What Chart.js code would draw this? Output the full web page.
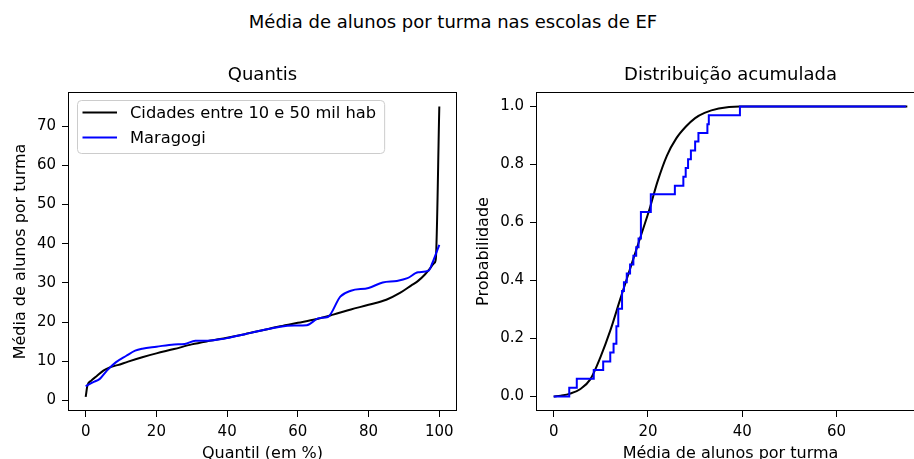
<!DOCTYPE html>
<html>
<head>
<meta charset="utf-8">
<script src="https://cdn.jsdelivr.net/npm/chart.js@4.4.1/dist/chart.umd.min.js"></script>
<style>
  html, body { margin: 0; padding: 0; background: #fff; }
  #page { position: relative; width: 914px; height: 459px; overflow: hidden; }
  #suptitle {
    position: absolute; left: 0; top: 13px; width: 906px;
    text-align: center; font: 18px "DejaVu Sans", sans-serif; line-height: 18px; color: #000;
  }
  canvas { position: absolute; top: 0; }
  #quantis { left: 0; }
  #acumulada { left: 470px; }
</style>
</head>
<body>
<div id="page">
  <div id="suptitle">Média de alunos por turma nas escolas de EF</div>
  <canvas id="quantis" width="470" height="459"></canvas>
  <canvas id="acumulada" width="470" height="459"></canvas>
</div>
<script>
// Quantis: média de alunos por turma em cada quantil (%)
const quantilCidades = [0, 0.5, 1.5, 3, 5, 7, 9, 12, 16, 20, 25, 30, 35, 40, 45, 50, 55, 60, 65, 70,
  75, 80, 85, 89, 92, 94, 96, 97.5, 98.5, 99, 100];
const mediaCidades = [0.9, 3.8, 5.0, 6.1, 7.6, 8.5, 9.0, 9.9, 11.0, 12.0, 13.1, 14.3, 15.2, 16.0, 16.9, 17.9, 18.9, 19.8, 20.7, 21.9,
  23.2, 24.4, 25.7, 27.5, 29.3, 30.5, 32.2, 33.8, 35.0, 36.0, 75];
const quantilMaragogi = [0, 2, 4, 6, 8.5, 11.5, 14, 16, 20, 25, 28, 31, 34, 38, 40, 45, 50, 55, 59, 62.5,
  66, 68.5, 72, 75, 80, 84, 88, 91, 94, 97, 98, 100];
const mediaMaragogi = [3.6, 4.6, 5.5, 7.6, 9.7, 11.4, 12.7, 13.2, 13.7, 14.3, 14.4, 15.2, 15.2, 15.6, 15.9, 16.9, 17.9, 18.8, 19.1, 19.2,
  21.0, 21.3, 26.5, 28.0, 28.7, 30.1, 30.5, 31.2, 32.7, 33.1, 35.0, 39.7];

// Distribuição acumulada
const alunosCidades = [0, 1.5, 3.5, 5.6, 7.8, 9.9, 12.0, 14.1, 16.2, 18.3, 20.4, 22.0, 24.0, 26.0, 28.0, 30.0, 32.0, 35.0, 39.5, 50, 75];
const probCidades = [0, 0.003, 0.01, 0.025, 0.06, 0.135, 0.227, 0.335, 0.44, 0.545, 0.65, 0.74, 0.83, 0.89, 0.93, 0.96, 0.978, 0.993, 1.0, 1.0, 1.0];
const alunosMaragogi = [0, 3.3, 4.9, 8.5, 10.5, 12.0, 12.7, 13.3, 13.7, 14.5, 14.9, 15.5, 16.2, 16.9, 17.5, 18.0, 18.5, 20.6,
  25.7, 27.5, 28.0, 28.5, 29.1, 30.0, 30.7, 32.6, 32.9, 39.5, 74.7];
const probMaragogi = [0, 0.03, 0.061, 0.091, 0.121, 0.152, 0.182, 0.242, 0.303, 0.364, 0.394, 0.424, 0.455, 0.485, 0.515, 0.545, 0.636, 0.697,
  0.727, 0.758, 0.788, 0.818, 0.848, 0.879, 0.909, 0.939, 0.970, 1.0, 1.0];

const xTicksQuantis = [0, 20, 40, 60, 80, 100];
const yTicksQuantis = [0, 10, 20, 30, 40, 50, 60, 70];
const xTicksAcum = [0, 20, 40, 60];
const yTicksAcum = [0, 0.2, 0.4, 0.6, 0.8, 1.0];

const FONTE = '"DejaVu Sans", sans-serif';
Chart.defaults.font.family = FONTE;
Chart.defaults.color = "#000";

const pares = (xs, ys) => xs.map((x, i) => ({ x, y: ys[i] }));

// moldura completa do eixo, como no matplotlib
const moldura = {
  id: "moldura",
  afterDatasetsDraw(chart) {
    const { ctx, chartArea: a } = chart;
    ctx.save();
    ctx.strokeStyle = "#000";
    ctx.lineWidth = 1;
    ctx.strokeRect(a.left + 0.5, a.top + 0.5, a.right - a.left - 1, a.bottom - a.top - 1);
    ctx.restore();
  },
};

// legenda dentro da área do gráfico (canto superior esquerdo)
const legendaInterna = {
  id: "legendaInterna",
  afterDraw(chart) {
    const { ctx, chartArea: a } = chart;
    const sets = chart.data.datasets;
    ctx.save();
    ctx.font = "16.3px " + FONTE;
    const larguraTexto = Math.max(...sets.map((d) => ctx.measureText(d.label).width));
    const x = a.left + 9, y = a.top + 8;
    const w = 53 + larguraTexto + 8, h = 53;
    ctx.beginPath();
    ctx.roundRect(x + 0.5, y + 0.5, w, h, 4);
    ctx.fillStyle = "rgba(255,255,255,0.8)";
    ctx.fill();
    ctx.strokeStyle = "#cccccc";
    ctx.lineWidth = 1;
    ctx.stroke();
    sets.forEach((d, i) => {
      const cy = y + 12.5 + i * 25;
      ctx.strokeStyle = d.borderColor;
      ctx.lineWidth = d.borderWidth;
      ctx.beginPath();
      ctx.moveTo(x + 5.5, cy);
      ctx.lineTo(x + 40, cy);
      ctx.stroke();
      ctx.fillStyle = "#000";
      ctx.textBaseline = "middle";
      ctx.fillText(d.label, x + 53, cy + 1);
    });
    ctx.restore();
  },
};

function eixo(min, max, ticks, titulo, opts) {
  return {
    type: "linear",
    min,
    max,
    afterBuildTicks: (s) => { s.ticks = ticks.map((v) => ({ value: v })); },
    afterFit: opts.fit,
    grid: { drawOnChartArea: false, color: "#000", tickLength: 6, lineWidth: 1 },
    border: { display: false },
    ticks: {
      font: { size: 15 },
      padding: 6,
      maxRotation: 0,
      autoSkip: false,
      callback: opts.fmt || ((v) => v),
    },
    title: { display: true, text: titulo, font: { size: 16 }, padding: opts.pad },
  };
}

function opcoes(titulo, scales, padRight) {
  return {
    responsive: false,
    animation: false,
    devicePixelRatio: 1,
    events: [],
    layout: { padding: { left: 0, right: padRight, top: 0, bottom: 0 } },
    scales,
    plugins: {
      legend: { display: false },
      tooltip: { enabled: false },
      title: {
        display: true,
        fullSize: false,
        text: titulo,
        font: { size: 18, weight: "normal" },
        padding: { top: 65, bottom: 5.4 },
      },
    },
  };
}

new Chart(document.getElementById("quantis"), {
  type: "line",
  data: {
    datasets: [
      {
        label: "Cidades entre 10 e 50 mil hab",
        data: pares(quantilCidades, mediaCidades),
        borderColor: "#000000",
        borderWidth: 2,
        pointRadius: 0,
        cubicInterpolationMode: "monotone",
        order: 1,
      },
      {
        label: "Maragogi",
        data: pares(quantilMaragogi, mediaMaragogi),
        borderColor: "#0000ff",
        borderWidth: 2,
        pointRadius: 0,
        cubicInterpolationMode: "monotone",
        order: 0,
      },
    ],
  },
  options: opcoes("Quantis", {
    x: eixo(-5, 105, xTicksQuantis, "Quantil (em %)", {
      fit: (s) => { s.height = 48; },
      pad: { top: 0, bottom: -4 },
    }),
    y: eixo(-2.7, 78.7, yTicksQuantis, "Média de alunos por turma", {
      fit: (s) => { s.width = 68; },
      pad: { top: 11.4, bottom: 0 },
    }),
  }, 13),
  plugins: [moldura, legendaInterna],
});

new Chart(document.getElementById("acumulada"), {
  type: "line",
  data: {
    datasets: [
      {
        label: "Cidades entre 10 e 50 mil hab",
        data: pares(alunosCidades, probCidades),
        borderColor: "#000000",
        borderWidth: 2,
        pointRadius: 0,
        cubicInterpolationMode: "monotone",
        order: 1,
      },
      {
        label: "Maragogi",
        data: pares(alunosMaragogi, probMaragogi),
        borderColor: "#0000ff",
        borderWidth: 2,
        pointRadius: 0,
        stepped: true,
        order: 0,
      },
    ],
  },
  options: opcoes("Distribuição acumulada", {
    x: eixo(-3.75, 78.75, xTicksAcum, "Média de alunos por turma", {
      fit: (s) => { s.height = 48; },
      pad: { top: 0, bottom: -4 },
    }),
    y: eixo(-0.05, 1.05, yTicksAcum, "Probabilidade", {
      fit: (s) => { s.width = 66; },
      pad: { top: 4.4, bottom: 0 },
      fmt: (v) => v.toFixed(1),
    }),
  }, 15),
  plugins: [moldura],
});
</script>
</body>
</html>
